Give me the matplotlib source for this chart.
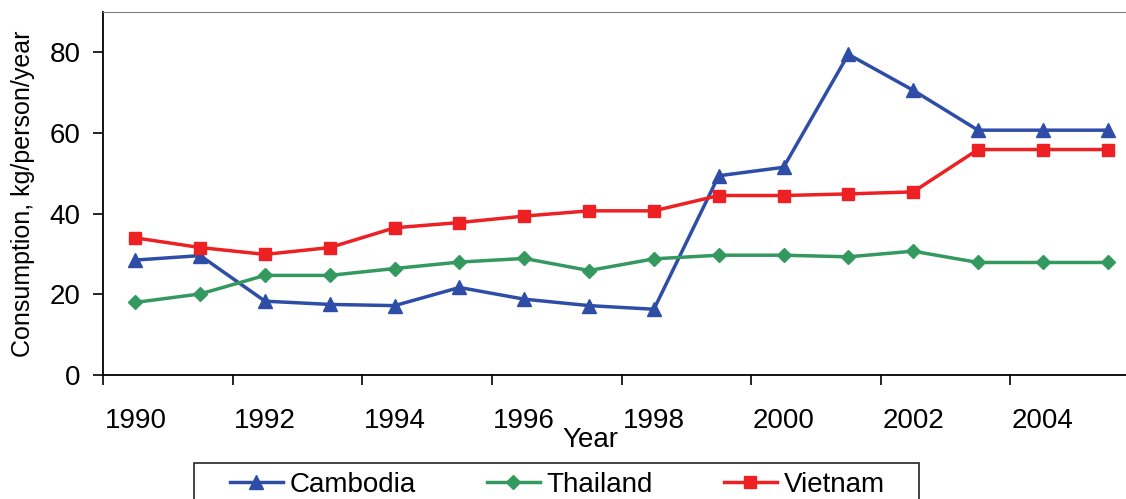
import matplotlib.pyplot as plt
from matplotlib.patches import Rectangle
import numpy as np

years = list(range(1990, 2006))
cambodia = [28.5, 29.6, 18.3, 17.5, 17.2, 21.7, 18.8, 17.2, 16.3, 49.4, 51.5, 79.5, 70.6, 60.7, 60.7, 60.7]
thailand = [18.0, 20.1, 24.7, 24.7, 26.4, 28.0, 28.9, 25.9, 28.8, 29.7, 29.7, 29.3, 30.7, 27.9, 27.9, 27.9]
vietnam = [34.0, 31.6, 29.9, 31.6, 36.5, 37.8, 39.4, 40.7, 40.7, 44.5, 44.5, 44.9, 45.4, 55.9, 55.9, 55.9]


def main():
    plt.rcParams['font.family'] = ['Liberation Sans', 'DejaVu Sans']

    fig = plt.figure(figsize=(11.26, 4.99), dpi=100)
    # axes runs a little past the right edge of the picture, like the original
    ax = fig.add_axes([103 / 1126, 1 - 375 / 499, 1037 / 1126, 363 / 499])

    x = np.arange(len(years))
    ax.plot(x, cambodia, '-^', color='#2E4DA7', lw=2.5, ms=10, label='Cambodia')
    ax.plot(x, thailand, '-D', color='#33995F', lw=2.5, ms=7, label='Thailand')
    ax.plot(x, vietnam, '-s', color='#ED2024', lw=2.5, ms=8, label='Vietnam')

    ax.set_xlim(-0.5, len(years) - 0.5)
    ax.set_ylim(0, 90)
    ax.set_yticks([0, 20, 40, 60, 80])

    # category axis: ticks on the boundaries, labels on every other year
    ax.set_xticks(np.arange(-0.5, len(years), 2))
    ax.set_xticklabels([])
    ax.set_xticks(x[::2], minor=True)
    ax.set_xticklabels([str(y) for y in years[::2]], minor=True)
    ax.tick_params(axis='x', which='major', direction='out', length=7, width=1.2)
    ax.tick_params(axis='x', which='minor', length=0, pad=24, labelsize=20)
    ax.tick_params(axis='y', direction='out', length=7, width=1.2, pad=9, labelsize=20)

    for side in ['left', 'bottom']:
        ax.spines[side].set_linewidth(1.3)
    ax.spines['top'].set_color('#808080')
    ax.spines['right'].set_visible(False)

    ax.set_ylabel('Consumption, kg/person/year', fontsize=18)
    ax.yaxis.set_label_coords(-0.066, 0.5)
    ax.set_xlabel('Year', fontsize=20, va='center')
    ax.xaxis.set_label_coords(0.47, -0.18)

    # legend box, cut off by the bottom of the picture
    fig.patches.append(Rectangle((194 / 1126, -0.05), 725 / 1126, 0.05 + 36 / 499,
                                 transform=fig.transFigure, fill=False,
                                 edgecolor='#222222', linewidth=1.2))
    fig.legend(loc='upper left', bbox_to_anchor=(230 / 1126, 1 - 472 / 499),
               ncol=3, fontsize=20, frameon=False,
               handlelength=1.9, handletextpad=0.25, columnspacing=2.55,
               borderpad=0, borderaxespad=0)

    fig.savefig('out.png', dpi=100)


if __name__ == '__main__':
    main()
